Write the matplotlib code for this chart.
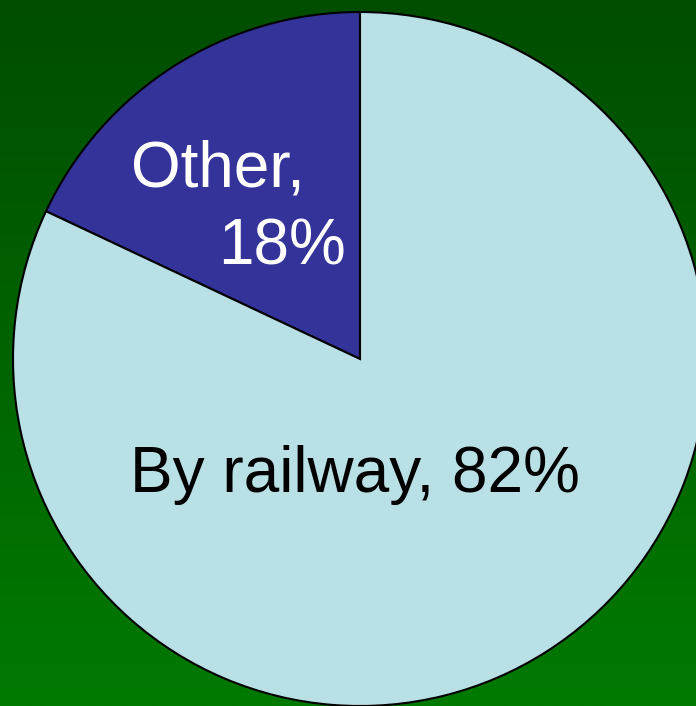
import numpy as np
import matplotlib.pyplot as plt
from matplotlib.colors import LinearSegmentedColormap

labels = ['Other', 'By railway']
shares = [18, 82]
colors = ['#333399', '#b9e0e4']

W, H = 696, 706
cx, cy, r = 360, 359, 347


def px(x, y):
    # pixel position -> data units of the pie
    return (x - cx) / r, (cy - y) / r


fig = plt.figure(figsize=(W / 100, H / 100), dpi=100)

# background gradient
bg = fig.add_axes([0, 0, 1, 1])
cmap = LinearSegmentedColormap.from_list('g', ['#004d00', '#007a00'])
bg.imshow(np.linspace(0, 1, 256).reshape(-1, 1), aspect='auto', cmap=cmap,
          extent=[0, 1, 0, 1])
bg.axis('off')

ax = fig.add_axes([0, 0, 1, 1])
ax.patch.set_alpha(0)
ax.pie(shares, colors=colors, startangle=90, counterclock=True, radius=1,
       wedgeprops=dict(edgecolor='black', linewidth=1.5))
ax.set_xlim(px(0, 0)[0], px(W, 0)[0])
ax.set_ylim(px(0, H)[1], px(0, 0)[1])
ax.set_aspect('auto')
ax.axis('off')

font = dict(family='Liberation Sans', fontsize=46)
x, y = px(218, 187)
ax.text(x, y, f'{labels[0]},', color='white', ha='center', va='baseline', **font)
x, y = px(282, 265)
ax.text(x, y, f'{shares[0]}%', color='white', ha='center', va='baseline', **font)
x, y = px(355, 492)
ax.text(x, y, f'{labels[1]}, {shares[1]}%', color='black', ha='center',
        va='baseline', **font)

fig.savefig('out.png', dpi=100)
